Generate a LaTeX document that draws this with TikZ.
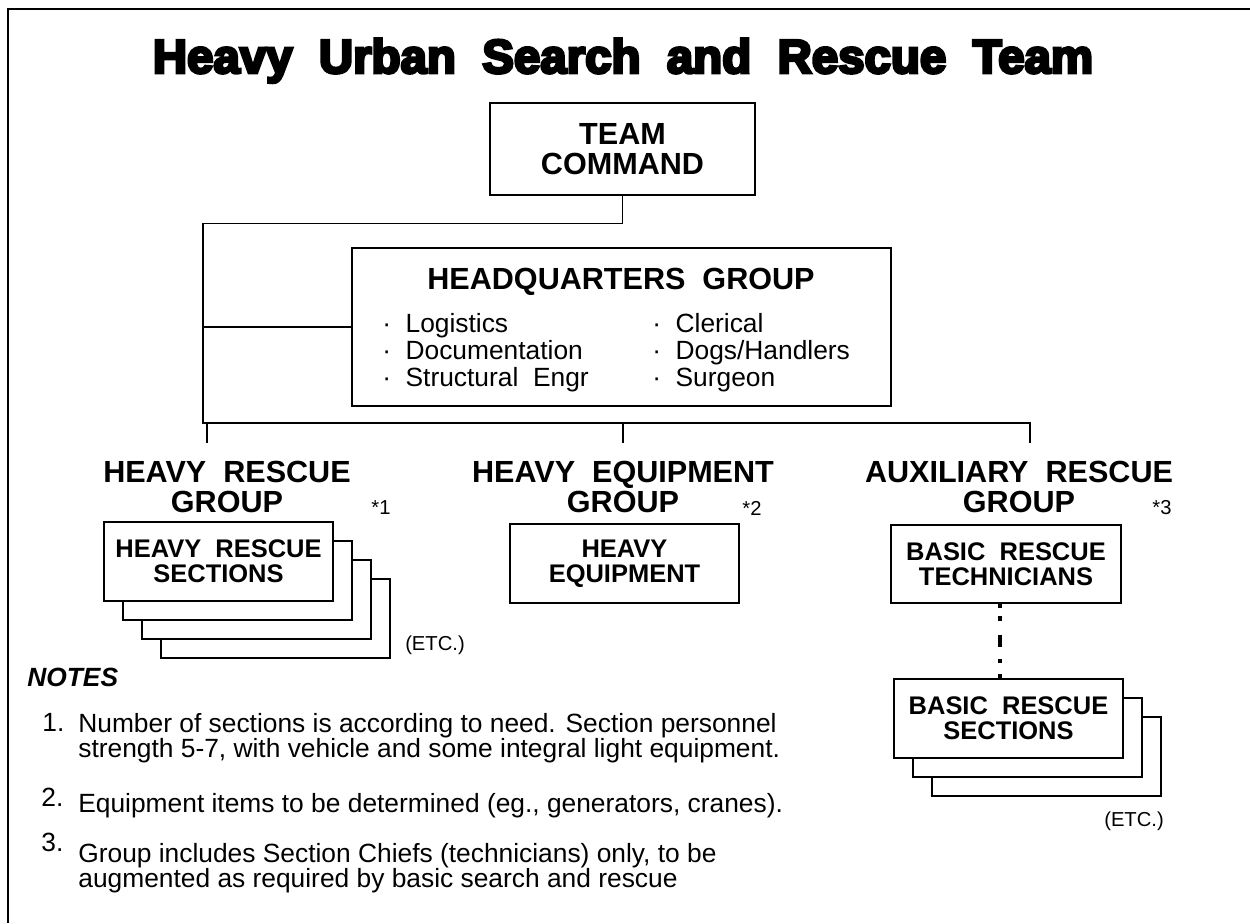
\documentclass[tikz,border=0pt]{standalone}
\usepackage{fontspec}
\setmainfont{Liberation Sans}
\newfontfamily\titlefont{Liberation Sans Bold}[FakeBold=6]
\usetikzlibrary{positioning}

\newcommand{\hqitem}{\textperiodcentered\hspace{0.55em}}

\tikzset{
  box/.style={draw, line width=0.75pt, fill=white, inner sep=0pt, align=center},
  bigtext/.style={font=\fontsize{17.4}{17}\selectfont\bfseries},
  boxtext/.style={font=\fontsize{14.5}{14.2}\selectfont\bfseries},
  grouphead/.style={bigtext, align=center, inner xsep=0pt, inner ysep=0.36cm, anchor=north},
  link/.style={line width=0.7pt},
  dotline/.style={line width=1.8pt, dash pattern=on 2.3pt off 5pt on 2.3pt off 8pt on 6.8pt off 7pt on 2.3pt off 6.5pt on 2.3pt off 5pt},
  small/.style={font=\fontsize{11.5}{12}\selectfont, inner sep=0pt},
  notetext/.style={font=\fontsize{15}{14.5}\selectfont, align=left, anchor=north west, inner sep=0pt},
  hqlist/.style={notetext, font=\fontsize{15}{15.3}\selectfont},
}

\begin{document}
\begin{tikzpicture}[x=0.02cm, y=-0.02cm]
  \useasboundingbox (0,0) rectangle (1250,923);
  % page frame
  \draw[line width=1.6pt] (8,923) -- (8,9) -- (1250,9);

  \node[font=\titlefont\fontsize{27}{30}\selectfont, anchor=base] (title) at (623,73)
    {Heavy~~Urban~~Search~~and~~Rescue~~Team};

  % command and headquarters
  \node[box, bigtext, minimum width=5.3cm, minimum height=1.84cm] (team) at (622.5,149)
    {TEAM\\COMMAND};
  \node[box, minimum width=10.78cm, minimum height=3.16cm] (hq) at (621.5,327) {};
  \node[bigtext, anchor=base, inner sep=0pt] (hqtitle) at (621,289) {HEADQUARTERS~~GROUP};
  \node[hqlist] (hqleft) at (382,313)
    {\hqitem Logistics\\\hqitem Documentation\\\hqitem Structural~~Engr};
  \node[hqlist] (hqright) at (652,313)
    {\hqitem Clerical\\\hqitem Dogs/Handlers\\\hqitem Surgeon};

  % the three groups
  \node[grouphead] (hrg) at (227,443) {HEAVY~~RESCUE\\GROUP};
  \node[grouphead] (heg) at (623,443) {HEAVY~~EQUIPMENT\\GROUP};
  \node[grouphead] (arg) at (1019,443) {AUXILIARY~~RESCUE\\GROUP};
  \node[small] (star1) at (381,508) {*1};
  \node[small] (star2) at (752,508) {*2};
  \node[small] (star3) at (1162,508) {*3};

  % connectors
  \coordinate (busw) at (203,423);
  \coordinate (buse) at (1030,423);
  \coordinate (drop1) at (207,443);
  \coordinate (drop2) at (623,443);
  \coordinate (drop3) at (1030,443);
  \draw[link] (team.south) -- ++(0,28) -| (busw) -- (buse) -- (drop3);
  \draw[link] (hq.west) -- (hq.west -| busw);
  \draw[link] (drop1 |- busw) -- (drop1);
  \draw[link] (drop2 |- busw) -- (drop2);

  % heavy rescue sections, stacked
  \foreach \k in {3,2,1}
    \draw[box] (104+19*\k,522+19*\k) rectangle +(229,79);
  \node[box, boxtext, minimum width=4.58cm, minimum height=1.58cm] (hrs) at (218.5,561.5)
    {HEAVY~~RESCUE\\SECTIONS};
  \node[small] (etc1) at (435,645) {(ETC.)};

  \node[box, boxtext, minimum width=4.58cm, minimum height=1.58cm] (heq) at (624.5,563.5)
    {HEAVY\\EQUIPMENT};

  % auxiliary side
  \node[box, boxtext, minimum width=4.6cm, minimum height=1.56cm] (brt) at (1006,564)
    {BASIC~~RESCUE\\TECHNICIANS};
  \foreach \k in {2,1}
    \draw[box] (894+19*\k,679+19*\k) rectangle +(229,79);
  \node[box, boxtext, minimum width=4.58cm, minimum height=1.58cm] (brs) at (1008.5,718.5)
    {BASIC~~RESCUE\\SECTIONS};
  \draw[dotline] ([xshift=-0.12cm]brt.south) -- ([xshift=-0.12cm]brt.south |- brs.north);
  \node[small] (etc2) at (1134,821) {(ETC.)};

  % notes
  \node[font=\fontsize{15}{15}\selectfont\bfseries\itshape, anchor=north west, inner sep=0pt]
    (notes) at (27,668) {NOTES};
  \node[notetext] (k1) at (42,713) {1.};
  \node[notetext] (n1) at (78,713)
    {Number of sections is according to need. Section personnel\\strength 5-7, with vehicle and some integral light equipment.};
  \node[notetext] (k2) at (41,788) {2.};
  \node[notetext] (n2) at (78,793) {Equipment items to be determined (eg., generators, cranes).};
  \node[notetext] (k3) at (41,833) {3.};
  \node[notetext] (n3) at (78,843)
    {Group includes Section Chiefs (technicians) only, to be\\augmented as required by basic search and rescue};
\end{tikzpicture}
\end{document}
